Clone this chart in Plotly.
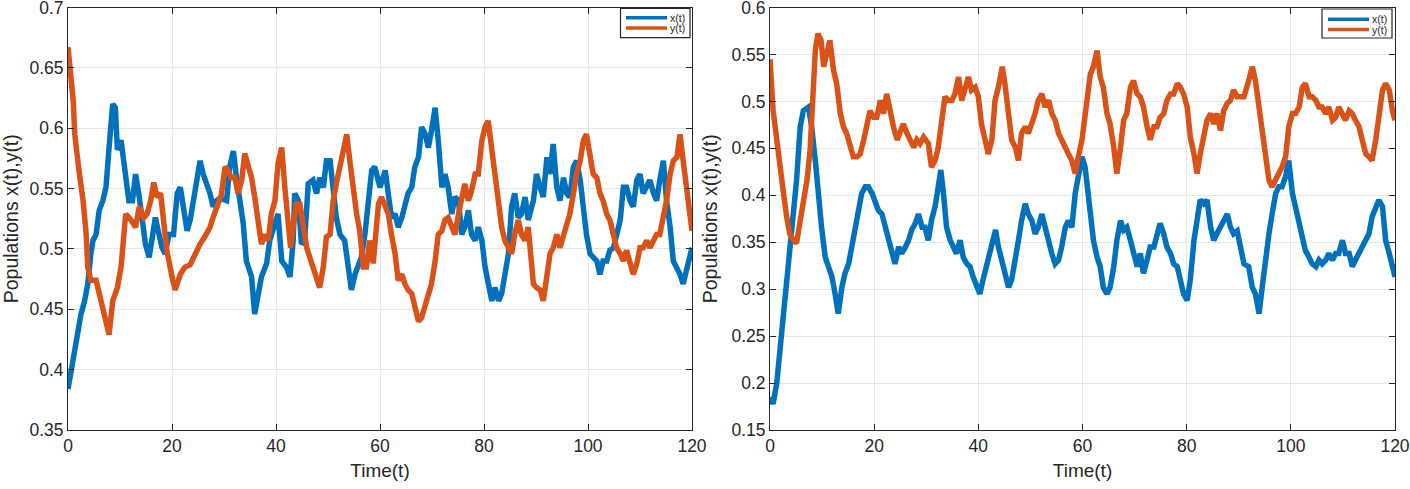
import plotly.graph_objects as go

# ---------------- Left panel data ----------------
tL_x = [0, 0.6, 1.3, 1.9, 2.5, 3.2, 3.8, 4.4, 4.8, 5.4, 6.0, 6.7, 7.3, 7.9, 8.6, 9.1, 9.5, 10.2, 10.5, 11.1,
        11.7, 12.4, 13.0, 13.7, 14.3, 14.9, 15.6, 16.2, 16.8, 17.5, 18.1, 18.7, 19.4, 20.3, 21.0, 21.6, 22.2,
        22.9, 23.5, 24.1, 24.8, 25.4, 26.0, 26.7, 27.3, 27.9, 28.6, 29.2, 30.5, 31.1, 31.8, 32.4, 33.0, 33.7,
        34.3, 35.3, 35.9, 36.6, 37.2, 38.2, 38.8, 39.8, 40.4, 41.1, 42.0, 42.7, 43.3, 43.6, 44.3, 44.9, 45.5,
        46.2, 47.1, 47.8, 48.4, 49.1, 49.7, 50.4, 51.0, 51.6, 52.3, 53.2, 53.9, 54.5, 55.2, 55.8, 56.4, 57.1,
        57.7, 58.4, 59.0, 60.0, 61.0, 61.6, 62.2, 62.9, 63.5, 64.2, 64.8, 65.4, 66.1, 66.7, 67.4, 68.0, 68.7,
        69.3, 69.9, 70.6, 71.2, 71.9, 72.5, 73.1, 73.8, 74.4, 75.1, 75.7, 76.3, 77.0, 77.6, 78.3, 78.9, 79.6,
        80.2, 80.8, 81.5, 82.1, 82.8, 83.4, 84.0, 84.7, 85.3, 85.9, 86.6, 87.2, 87.9, 88.5, 89.5, 90.1, 90.8,
        91.4, 92.1, 92.7, 93.3, 94.0, 94.6, 95.3, 95.9, 96.5, 97.2, 97.8, 98.5, 99.1, 99.7, 100.4, 101.0,
        101.7, 102.3, 102.9, 103.6, 104.2, 104.9, 105.5, 106.2, 106.8, 107.4, 108.1, 108.7, 109.4, 110.0,
        110.6, 111.3, 111.9, 112.6, 113.2, 113.8, 114.5, 115.1, 115.8, 116.4, 117.1, 117.7, 118.3, 119.0,
        119.6, 120.0]
xL = [.384, .399, .413, .430, .446, .457, .471, .496, .507, .512, .532, .540, .551, .584, .620, .617, .582,
      .590, .579, .559, .540, .540, .562, .543, .526, .504, .493, .512, .526, .512, .501, .496, .512, .512,
      .546, .551, .535, .515, .524, .540, .557, .573, .562, .554, .546, .535, .540, .542, .540, .568, .581,
      .559, .540, .521, .490, .477, .446, .463, .477, .488, .507, .521, .529, .490, .485, .477, .507, .546,
      .540, .504, .507, .554, .557, .546, .559, .551, .573, .573, .546, .526, .512, .507, .485, .466, .479,
      .485, .493, .512, .540, .565, .568, .551, .565, .548, .526, .529, .518, .526, .537, .546, .551, .568,
      .576, .601, .595, .584, .598, .617, .590, .551, .562, .551, .529, .543, .540, .512, .518, .532, .512,
      .507, .518, .507, .485, .471, .457, .468, .457, .463, .477, .496, .535, .546, .526, .529, .543, .524,
      .540, .562, .551, .543, .576, .562, .587, .551, .540, .559, .546, .543, .568, .573, .557, .529, .512,
      .496, .493, .490, .479, .490, .490, .499, .501, .512, .524, .551, .551, .540, .535, .557, .562, .546,
      .551, .557, .546, .540, .557, .573, .540, .518, .490, .485, .479, .471, .485, .496, .501]

tL_y = [0, 1.0, 1.3, 1.6, 2.2, 2.9, 3.5, 3.8, 4.4, 5.4, 6.3, 7.3, 7.9, 8.6, 9.5, 10.2, 10.8, 11.1, 12.1, 13.0,
        13.7, 14.6, 15.2, 15.9, 16.5, 17.1, 17.8, 18.4, 19.0, 20.0, 20.6, 21.6, 22.5, 23.5, 24.4, 25.4, 26.3,
        27.3, 27.9, 28.9, 29.5, 30.2, 30.8, 31.4, 32.1, 32.7, 33.4, 34.0, 34.7, 35.3, 35.9, 36.6, 37.2, 37.9,
        38.5, 39.1, 39.8, 40.4, 41.1, 41.7, 42.3, 42.8, 43.3, 43.9, 44.6, 45.2, 45.9, 46.5, 47.1, 47.8, 48.4,
        49.1, 49.7, 50.4, 51.0, 51.6, 52.3, 52.9, 53.6, 54.2, 54.8, 55.5, 56.1, 56.8, 57.4, 58.0, 58.7, 59.3,
        59.7, 60.3, 61.0, 61.6, 62.2, 62.9, 63.5, 64.2, 64.8, 65.4, 66.1, 66.7, 67.4, 68.0, 68.7, 69.3, 69.9,
        70.6, 71.2, 71.9, 72.5, 73.1, 73.8, 74.4, 75.1, 75.7, 76.3, 77.0, 77.6, 78.3, 78.9, 79.6, 80.2, 80.8,
        81.5, 82.1, 82.8, 83.4, 84.0, 84.7, 85.3, 85.9, 86.6, 87.2, 87.9, 88.5, 89.2, 89.5, 90.1, 90.8, 91.4,
        92.1, 92.7, 93.3, 94.0, 94.6, 95.3, 95.9, 96.5, 97.2, 97.8, 98.5, 99.1, 99.7, 100.4, 101.0, 101.7,
        102.3, 102.9, 103.6, 104.2, 104.9, 105.5, 106.2, 106.8, 107.4, 108.1, 108.7, 109.4, 110.0, 110.6,
        111.3, 111.9, 112.6, 113.2, 113.8, 114.5, 115.1, 115.8, 116.4, 117.1, 117.7, 118.3, 119.0, 119.6, 120.0]
yL = [.667, .623, .595, .581, .562, .540, .512, .485, .474, .474, .457, .440, .429, .457, .468, .485, .526,
      .529, .524, .518, .535, .526, .529, .540, .555, .543, .546, .526, .499, .477, .466, .479, .485, .487,
      .496, .504, .510, .518, .526, .540, .545, .568, .565, .559, .559, .546, .557, .579, .568, .559, .543,
      .518, .504, .512, .507, .529, .540, .571, .584, .551, .524, .501, .518, .537, .537, .518, .501, .493,
      .485, .477, .468, .485, .510, .512, .540, .554, .568, .576, .595, .573, .551, .529, .515, .485, .485,
      .507, .488, .512, .537, .543, .535, .529, .512, .496, .474, .479, .471, .466, .463, .452, .440, .443,
      .452, .463, .471, .490, .512, .515, .524, .526, .518, .512, .529, .540, .554, .540, .548, .562, .562,
      .590, .601, .606, .584, .562, .535, .518, .507, .501, .496, .512, .524, .512, .507, .518, .490, .471,
      .468, .466, .457, .477, .496, .501, .512, .501, .512, .518, .529, .546, .562, .573, .590, .595, .576,
      .562, .559, .546, .540, .529, .524, .512, .501, .496, .490, .499, .490, .479, .488, .501, .501, .507,
      .501, .507, .512, .512, .526, .540, .562, .573, .576, .595, .573, .551, .524, .515]

# ---------------- Right panel data ----------------
tR_x = [0, 0.6, 1.3, 1.9, 2.4, 3.0, 3.5, 4.0, 4.5, 5.1, 5.8, 6.4, 7.4, 8.0, 8.7, 9.3, 9.9, 10.6, 11.2, 11.9,
        12.5, 13.1, 13.8, 14.4, 15.1, 15.7, 16.3, 17.0, 17.6, 18.3, 18.9, 19.6, 20.2, 20.8, 21.5, 22.1, 22.8,
        23.4, 24.0, 24.7, 25.3, 26.0, 26.6, 27.2, 27.9, 28.5, 29.2, 29.75, 30.4, 31.0, 31.7, 32.3, 32.8, 33.3,
        33.9, 34.6, 35.2, 35.8, 36.5, 37.1, 37.8, 38.4, 39.0, 39.7, 40.3, 40.9, 41.6, 42.3, 42.9, 43.3, 43.85,
        44.5, 45.1, 45.8, 46.4, 47.1, 47.7, 48.3, 49.0, 49.6, 50.3, 50.9, 51.5, 52.2, 52.8, 53.5, 54.1, 54.75,
        55.4, 56.0, 56.7, 57.3, 57.95, 58.6, 59.2, 59.9, 60.5, 61.5, 62.1, 62.8, 63.4, 64.0, 64.7, 65.3, 66.0,
        66.6, 67.3, 67.9, 68.5, 69.2, 69.8, 70.5, 71.1, 71.7, 72.4, 73.0, 73.7, 74.3, 74.9, 75.6, 76.2, 76.9,
        77.5, 78.2, 78.8, 79.4, 80.1, 80.7, 81.4, 82.0, 82.6, 83.3, 83.9, 84.6, 85.2, 85.8, 86.5, 87.1, 87.8,
        88.4, 89.0, 89.7, 90.3, 91.0, 91.9, 92.6, 93.2, 93.9, 94.5, 95.1, 95.8, 96.4, 97.1, 97.7, 98.3, 99.0,
        99.6, 100.3, 100.9, 101.6, 102.2, 102.8, 103.5, 104.1, 104.8, 105.4, 106.0, 106.7, 107.3, 108.0,
        108.6, 109.2, 109.9, 110.5, 111.2, 111.8, 112.4, 113.1, 113.7, 114.4, 115.0, 115.6, 116.3, 116.9,
        117.6, 118.2, 118.9, 119.5, 120.0]
xR = [.185, .178, .200, .235, .267, .288, .317, .345, .388, .416, .473, .490, .494, .473, .437, .395, .366,
      .334, .324, .313, .295, .274, .302, .317, .327, .345, .359, .380, .402, .409, .409, .402, .391, .384,
      .380, .366, .352, .338, .327, .345, .338, .345, .352, .363, .370, .380, .366, .366, .352, .373, .388,
      .409, .427, .402, .366, .352, .345, .338, .352, .334, .327, .324, .313, .302, .295, .310, .327, .345,
      .359, .363, .345, .331, .317, .302, .310, .338, .352, .373, .391, .380, .373, .359, .366, .380, .366,
      .349, .338, .327, .331, .345, .366, .373, .366, .402, .423, .441, .430, .388, .352, .334, .324, .302,
      .295, .302, .324, .352, .373, .363, .366, .352, .338, .324, .338, .317, .331, .345, .345, .359, .370,
      .359, .345, .338, .327, .324, .310, .295, .288, .310, .352, .373, .395, .391, .395, .366, .352, .359,
      .366, .373, .380, .366, .359, .362, .345, .327, .324, .302, .295, .274, .302, .331, .359, .380, .402,
      .409, .409, .420, .437, .402, .388, .366, .352, .341, .334, .327, .324, .331, .327, .331, .338, .331,
      .338, .338, .352, .338, .338, .324, .331, .338, .345, .352, .359, .377, .388, .395, .388, .352, .338,
      .324, .313]

tR_y = [0, 0.6, 1.3, 1.9, 2.6, 3.2, 3.8, 4.5, 5.1, 5.8, 6.4, 7.1, 7.7, 8.1, 8.7, 9.2, 9.8, 10.3, 10.9, 11.5,
        12.2, 12.8, 13.5, 14.1, 14.7, 15.4, 16.0, 16.7, 17.3, 18.0, 18.6, 19.2, 19.9, 20.5, 21.2, 21.8, 22.4,
        23.1, 23.7, 24.4, 25.0, 25.6, 26.3, 26.9, 27.6, 28.2, 28.8, 29.5, 30.4, 31.0, 31.7, 32.3, 33.0, 33.6,
        34.2, 34.9, 35.5, 36.2, 36.8, 37.4, 38.1, 38.7, 39.4, 40.0, 40.6, 41.3, 41.9, 42.6, 43.2, 43.85, 44.6,
        45.1, 45.8, 46.4, 47.1, 47.7, 48.3, 49.0, 49.6, 50.3, 50.9, 51.5, 52.2, 52.8, 53.5, 54.1, 54.75, 55.4,
        56.0, 56.7, 57.3, 57.95, 58.6, 59.2, 59.9, 60.5, 61.2, 61.5, 62.1, 62.8, 63.4, 64.0, 64.7, 65.3, 66.0,
        66.6, 67.3, 67.9, 68.5, 69.2, 69.8, 70.5, 71.1, 71.7, 72.4, 73.0, 73.7, 74.3, 74.9, 75.6, 76.2, 76.9,
        77.5, 78.2, 78.8, 79.4, 80.1, 80.7, 81.4, 82.0, 82.6, 83.3, 83.9, 84.6, 85.2, 85.8, 86.5, 87.1, 87.8,
        88.4, 89.0, 89.7, 90.3, 91.0, 91.9, 92.6, 93.2, 93.9, 94.5, 95.1, 95.8, 96.4, 97.1, 97.7, 98.3, 99.0,
        99.6, 100.3, 100.9, 101.6, 102.2, 102.8, 103.5, 104.1, 104.8, 105.4, 106.0, 106.7, 107.3, 108.0,
        108.6, 109.2, 109.9, 110.5, 111.2, 111.8, 112.4, 113.1, 113.7, 114.4, 115.0, 115.6, 116.3, 116.9,
        117.6, 118.2, 118.9, 119.5, 120.0]
yR = [.545, .490, .459, .427, .402, .377, .359, .352, .349, .373, .395, .416, .448, .501, .554, .572, .565,
      .537, .554, .565, .533, .519, .487, .473, .466, .451, .441, .441, .444, .459, .476, .490, .483, .483,
      .501, .487, .508, .487, .473, .459, .469, .476, .466, .459, .451, .459, .455, .462, .455, .430, .437,
      .451, .476, .505, .501, .501, .508, .526, .501, .512, .526, .512, .515, .505, .476, .459, .444, .459,
      .501, .515, .537, .519, .487, .459, .451, .437, .466, .473, .466, .476, .487, .501, .508, .494, .501,
      .487, .480, .466, .459, .448, .444, .437, .423, .441, .459, .485, .520, .529, .537, .554, .526, .515,
      .487, .476, .451, .423, .451, .480, .487, .515, .522, .508, .505, .494, .473, .459, .473, .473, .483,
      .487, .501, .508, .508, .519, .515, .508, .494, .462, .444, .423, .444, .466, .480, .487, .476, .487,
      .469, .490, .498, .501, .512, .505, .505, .505, .522, .537, .522, .494, .466, .437, .416, .409, .416,
      .423, .430, .441, .473, .487, .487, .494, .515, .519, .505, .505, .501, .494, .494, .487, .494, .480,
      .483, .494, .487, .480, .490, .487, .480, .473, .459, .444, .441, .437, .459, .487, .512, .519, .512,
      .490, .480]

x_ticks = [0, 20, 40, 60, 80, 100, 120]
yL_ticks = [0.35, 0.4, 0.45, 0.5, 0.55, 0.6, 0.65, 0.7]
yL_labels = ["0.35", "0.4", "0.45", "0.5", "0.55", "0.6", "0.65", "0.7"]
yR_ticks = [0.15, 0.2, 0.25, 0.3, 0.35, 0.4, 0.45, 0.5, 0.55, 0.6]
yR_labels = ["0.15", "0.2", "0.25", "0.3", "0.35", "0.4", "0.45", "0.5", "0.55", "0.6"]
series_names = ["x(t)", "y(t)"]

BLUE = "#0072BD"
ORANGE = "#D95319"
AX = "#262626"
GRID = "#E6E6E6"
FONT = "Liberation Sans"
LW = 5.5
COLORS = [BLUE, ORANGE]

fig = go.Figure()
fig.add_trace(go.Scatter(x=tL_x, y=xL, mode="lines", name=series_names[0], line=dict(color=BLUE, width=LW),
                         xaxis="x", yaxis="y"))
fig.add_trace(go.Scatter(x=tL_y, y=yL, mode="lines", name=series_names[1], line=dict(color=ORANGE, width=LW),
                         xaxis="x", yaxis="y"))
fig.add_trace(go.Scatter(x=tR_x, y=xR, mode="lines", name=series_names[0], line=dict(color=BLUE, width=LW),
                         xaxis="x2", yaxis="y2"))
fig.add_trace(go.Scatter(x=tR_y, y=yR, mode="lines", name=series_names[1], line=dict(color=ORANGE, width=LW),
                         xaxis="x2", yaxis="y2"))

W, H = 1410, 489
ydom = [1 - 430 / H, 1 - 7.5 / H]

def px_x(p):
    return p / W

def px_y(p):
    return 1 - p / H

def xax(dom, anchor):
    return dict(domain=dom, anchor=anchor, range=[0, 120], tickvals=x_ticks, automargin=False,
                ticklabeloverflow="allow",
                ticks="inside", ticklen=6, tickcolor=AX, showline=True, linecolor=AX, linewidth=1,
                mirror="ticks", showgrid=True, gridcolor=GRID, gridwidth=1, zeroline=False,
                title=dict(text="Time(t)", font=dict(size=19, color=AX, family=FONT), standoff=8),
                tickfont=dict(size=17.5, color=AX, family=FONT))

def yax(dom, anchor, rng, tv, tt):
    return dict(domain=dom, anchor=anchor, range=rng, tickvals=tv, ticktext=tt, automargin=False,
                ticklabeloverflow="allow",
                ticks="inside", ticklen=6, tickcolor=AX, showline=True, linecolor=AX, linewidth=1,
                mirror="ticks", showgrid=True, gridcolor=GRID, gridwidth=1, zeroline=False,
                title=dict(text="Populations x(t),y(t)", font=dict(size=19.5, color=AX, family=FONT), standoff=8),
                tickfont=dict(size=17.5, color=AX, family=FONT))

# Hand-built MATLAB-style legends (box, line samples, labels) in paper coordinates
shapes = []
annotations = []
legend_boxes = [(620.5, 8.3, 690.0, 37.7, 626.0, 667.0, [17.7, 28.0], 668.5),
                (1322.0, 9.0, 1392.0, 38.0, 1328.0, 1369.0, [19.3, 29.6], 1370.5)]
for (bx0, by0, bx1, by1, lx0, lx1, lys, tx) in legend_boxes:
    shapes.append(dict(type="rect", xref="paper", yref="paper", x0=px_x(bx0), x1=px_x(bx1),
                       y0=px_y(by1), y1=px_y(by0), line=dict(color=AX, width=1.2), fillcolor="white",
                       layer="above"))
    for name, col, ly in zip(series_names, COLORS, lys):
        shapes.append(dict(type="line", xref="paper", yref="paper", x0=px_x(lx0), x1=px_x(lx1),
                           y0=px_y(ly), y1=px_y(ly), line=dict(color=col, width=3.5), layer="above"))
        annotations.append(dict(text=name, xref="paper", yref="paper", x=px_x(tx), y=px_y(ly),
                                xanchor="left", yanchor="middle", showarrow=False,
                                borderpad=0, font=dict(size=10.5, color=AX, family=FONT)))

fig.update_layout(
    width=W, height=H,
    margin=dict(l=0, r=0, t=0, b=0),
    paper_bgcolor="white", plot_bgcolor="white",
    font=dict(family=FONT, color=AX),
    showlegend=False,
    hovermode=False,
    xaxis=xax([68 / W, 692 / W], "y"),
    yaxis=yax(ydom, "x", [0.35, 0.7], yL_ticks, yL_labels),
    xaxis2=xax([770 / W, 1395 / W], "y2"),
    yaxis2=yax(ydom, "x2", [0.15, 0.6], yR_ticks, yR_labels),
    shapes=shapes,
    annotations=annotations,
)

fig.write_html("out.html", config={"displayModeBar": False},
               post_script="document.body.style.margin='0px';")
